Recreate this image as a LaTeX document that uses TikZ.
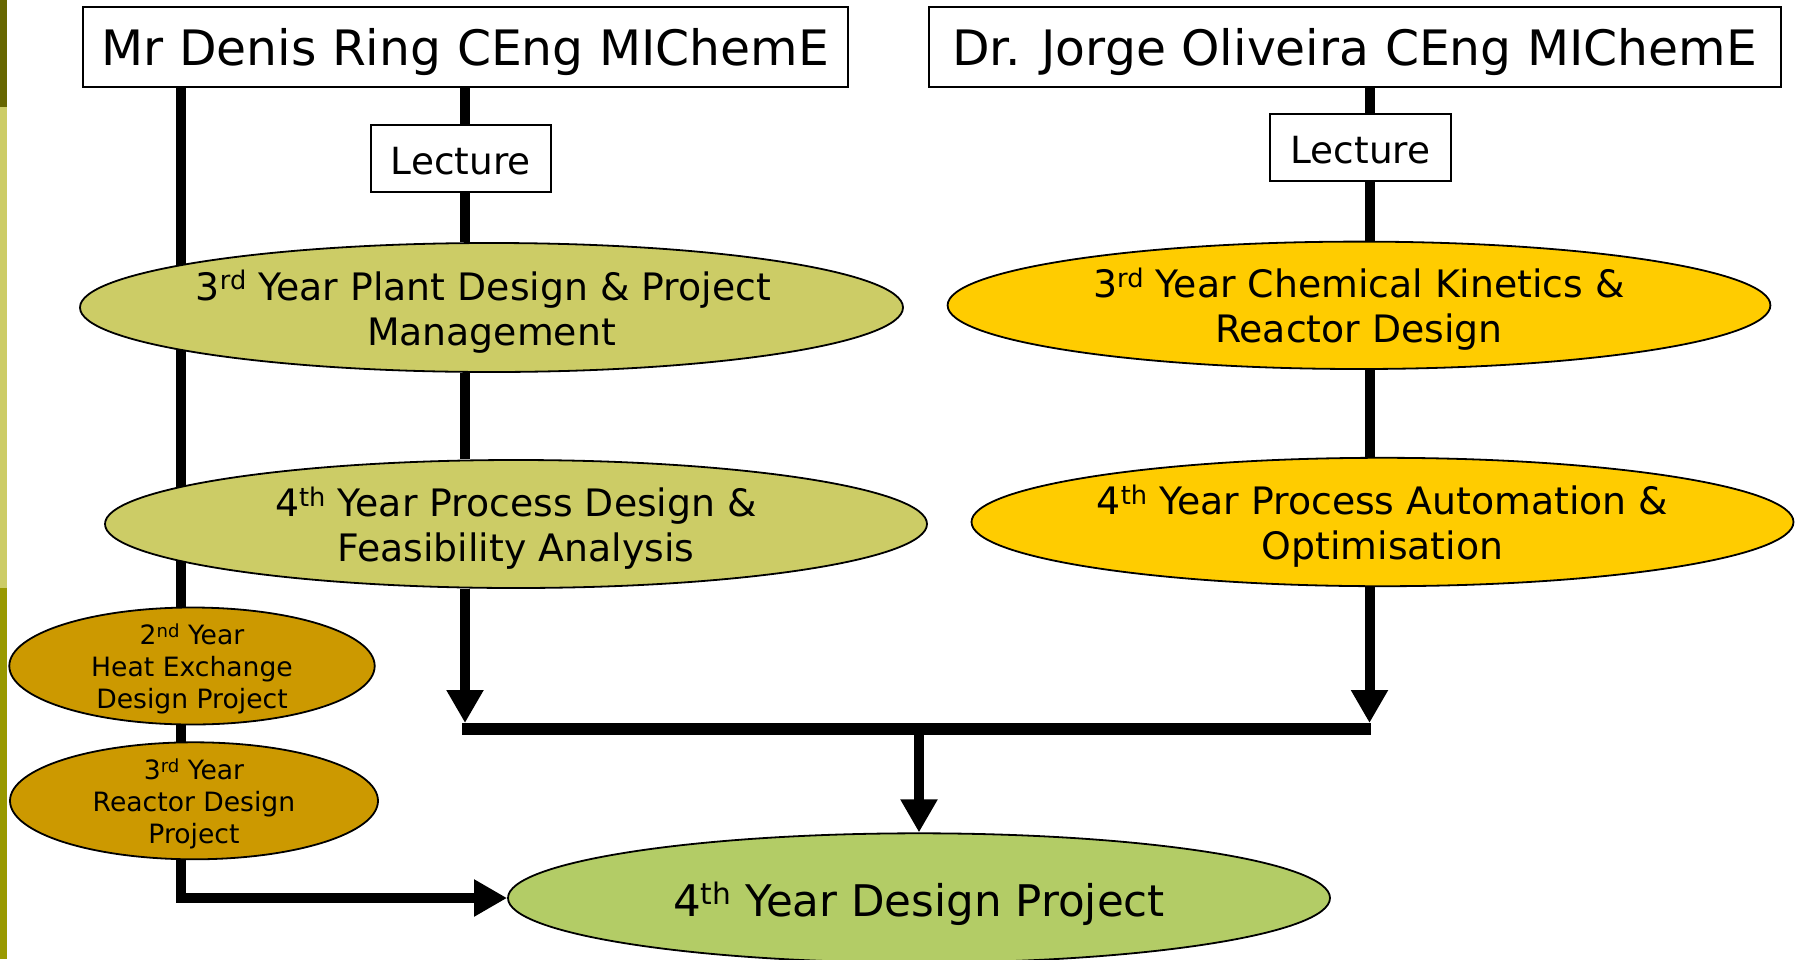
\documentclass[tikz,border=0pt]{standalone}
\usepackage{fontspec}
\setmainfont{DejaVu Sans}
\usetikzlibrary{shapes.geometric,arrows.meta,backgrounds}
\definecolor{olivedark}{HTML}{666600}
\definecolor{olivelight}{HTML}{CCCC66}
\definecolor{olivemid}{HTML}{999900}
\definecolor{amber}{HTML}{FFCC00}
\definecolor{ochre}{HTML}{CC9900}
\definecolor{leaf}{HTML}{B3CC66}
\newcommand\supx[1]{\raisebox{0.28em}{\scalebox{0.68}{#1}}}
\tikzset{
  hdr/.style={draw, line width=1pt, fill=white, minimum height=40pt, inner sep=0pt,
    font=\fontsize{24.4}{28}\selectfont, text depth=0pt},
  lect/.style={draw, line width=1pt, fill=white, minimum width=90pt, minimum height=33.5pt,
    inner sep=0pt, font=\fontsize{18.7}{22.5}\selectfont, text height=16pt, text depth=0pt},
  oval/.style={ellipse, draw, line width=0.9pt, inner sep=0pt},
  bigtext/.style={align=center, inner sep=0pt, font=\fontsize{18.9}{22.5}\selectfont, yshift=-2pt},
  fintext/.style={align=center, inner sep=0pt, font=\fontsize{21.8}{26}\selectfont, yshift=-3pt},
  smalltext/.style={align=center, inner sep=0pt, font=\fontsize{13.3}{16}\selectfont, yshift=-1.5pt},
  conn/.style={line width=5pt, line join=miter},
  bigarrow/.style={-{Triangle[length=16.5pt,width=17.5pt]}},
}
\begin{document}
\begin{tikzpicture}[x=0.5pt,y=-0.5pt]
\useasboundingbox (0,0) rectangle (1799,959);

% header boxes and lecture boxes
\node[hdr, minimum width=382.7pt] (h1) at (465.3,47.3) {Mr Denis Ring CEng MIChemE};
\node[hdr, minimum width=426pt] (h2) at (1354.7,47.3) {Dr. Jorge Oliveira CEng MIChemE};
\node[lect] (l1) at (460.7,158.2) {Lecture};
\node[lect, minimum width=90.4pt] (l2) at (1360.4,147.7) {Lecture};

% ellipses
\node[oval, fill=olivelight, minimum width=411.5pt, minimum height=64.5pt] (e1) at (491.5,307.5) {};
\node[bigtext] (e1t) at (e1) {\hspace*{-8pt}3\supx{rd} Year Plant Design \& Project\\Management};
\node[oval, fill=olivelight, minimum width=411pt, minimum height=64pt] (e2) at (516,524) {};
\node[bigtext] (e2t) at (e2) {4\supx{th} Year Process Design \&\\Feasibility Analysis};
\node[oval, fill=amber, minimum width=411.4pt, minimum height=63.7pt] (e3) at (1359,305.3) {};
\node[bigtext] (e3t) at (e3) {3\supx{rd} Year Chemical Kinetics \&\\Reactor Design};
\node[oval, fill=amber, minimum width=411pt, minimum height=64.2pt] (e4) at (1382.5,522) {};
\node[bigtext] (e4t) at (e4) {4\supx{th} Year Process Automation \&\\Optimisation};
\node[oval, fill=ochre, minimum width=182.7pt, minimum height=58.5pt] (s1) at (192,666) {};
\node[smalltext] (s1t) at (s1) {2\supx{nd} Year\\Heat Exchange\\Design Project};
\node[oval, fill=ochre, minimum width=184pt, minimum height=58.5pt] (s2) at (194,800.8) {};
\node[smalltext] (s2t) at (s2) {3\supx{rd} Year\\Reactor Design\\Project};
\node[oval, fill=leaf, minimum width=411pt, minimum height=64.7pt] (fin) at (919,898) {};
\node[fintext] (fint) at (fin) {4\supx{th} Year Design Project};

% helper coordinates
\coordinate (lx) at (181,0);
\coordinate (mx) at (465,0);
\coordinate (rx) at (1369.5,0);
\coordinate (busL) at (465,729);
\coordinate (busR) at (1369.5,729);
\coordinate (busM) at (fin.north |- busL);

\begin{scope}[on background layer]
  \fill[white] (0,0) rectangle (1799,959);
  \fill[olivedark] (0,0) rectangle (7,107);
  \fill[olivelight] (0,107) rectangle (7,588);
  \fill[olivemid] (0,588) rectangle (7,959);
  % left line to final project
  \draw[conn, bigarrow] (h1.south -| lx) |- (fin.west);
  % middle-left chain
  \draw[conn] (h1.south -| mx) -- (l1.north -| mx);
  \draw[conn] (l1.south -| mx) -- (e1.north -| mx);
  \draw[conn] (e1.south -| mx) -- (e2.north -| mx);
  \draw[conn, bigarrow] (e2.south -| mx) -- ([yshift=3pt]busL);
  % right chain
  \draw[conn] (h2.south -| rx) -- (l2.north -| rx);
  \draw[conn] (l2.south -| rx) -- (e3.north -| rx);
  \draw[conn] (e3.south -| rx) -- (e4.north -| rx);
  \draw[conn, bigarrow] (e4.south -| rx) -- ([yshift=3pt]busR);
  % bus and arrow to final
  \draw[line width=6pt] ([xshift=-1.5pt]busL) -- ([xshift=0.5pt]busR);
  \draw[conn, bigarrow] (busM) -- (fin.north);
\end{scope}
\end{tikzpicture}
\end{document}
